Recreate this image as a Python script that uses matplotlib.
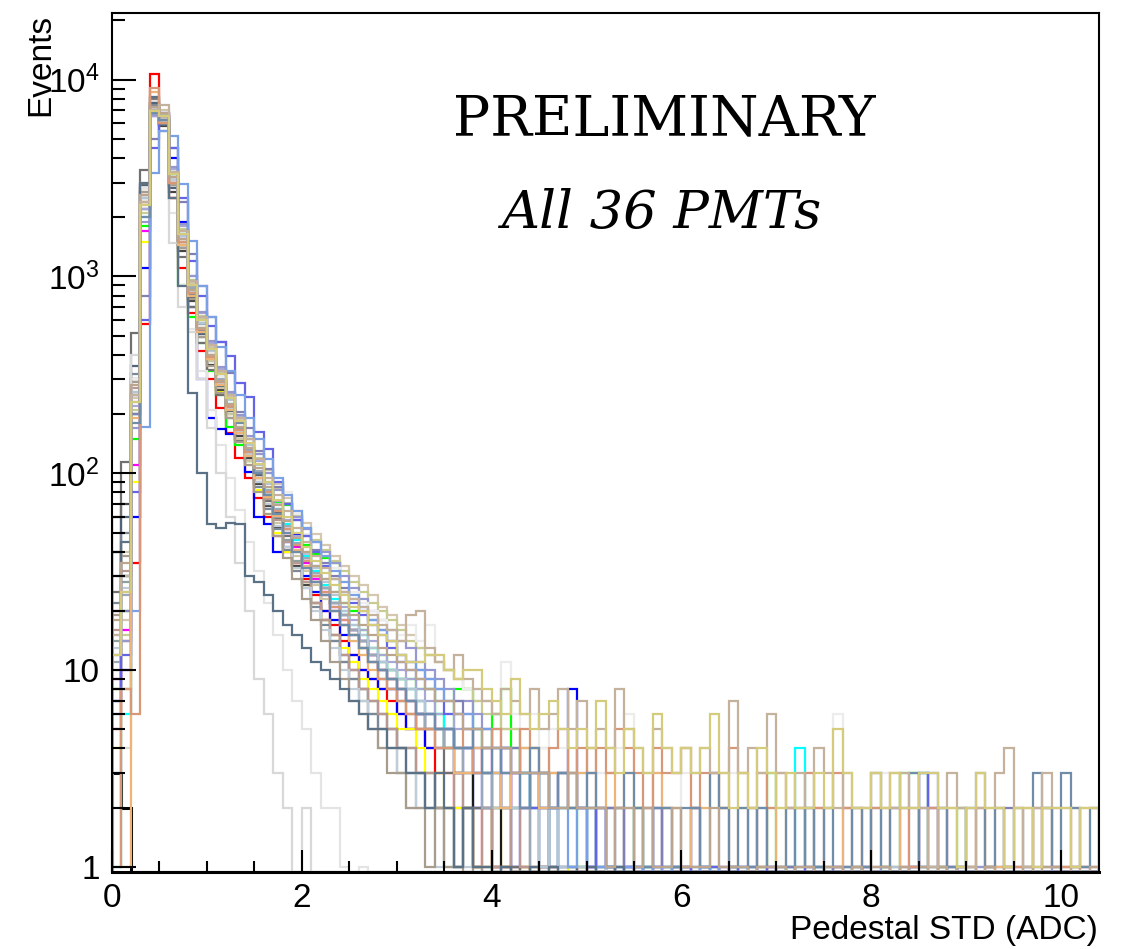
import numpy as np
import matplotlib
matplotlib.use("Agg")
import matplotlib.pyplot as plt
from matplotlib.ticker import FixedLocator, FixedFormatter, NullFormatter

# ---------------- data (counts per 0.1-ADC bin, starting at 0) ----------------
bin_width = 0.1
n_bins = 104
x_max = 10.4
y_min, y_max = 0.943, 21800

pmt01 = [3, 2]
pmt02 = [5, 14, 35, 575, 10700, 6500, 2500, 1100, 650, 420, 300, 215, 160, 120, 95, 75, 60, 48, 40, 34, 29, 24, 20, 17, 14, 12, 10, 9, 8, 7, 6, 5, 5, 4, 3, 3, 2, 2, 1, 2, 1, 1, 0, 1, 0, 1, 1, 0, 0, 1]
pmt03 = [8, 20, 150, 1800, 7000, 6200, 3200, 910, 620, 460, 330, 250, 172, 140, 115, 95, 82, 71, 69, 61, 43, 39, 37, 35, 22, 20, 16, 13, 12, 10, 9, 9, 8, 8, 6, 4, 8, 8, 5, 4, 6, 8, 4, 3, 2, 3, 1, 2, 2, 1, 2, 0, 1, 1, 0, 2, 1, 0, 1, 0, 1, 0, 0, 1, 0, 1, 0, 0, 1, 3, 0, 1, 0, 0, 1, 0, 0, 0, 1, 0, 0, 1, 0, 3, 3, 3, 0, 1, 0, 2]
pmt04 = [7, 10, 60, 1100, 6500, 6800, 4000, 1900, 700, 300, 190, 167, 158, 150, 101, 60, 55, 40, 45, 49, 30, 25, 20, 18, 15, 12, 10, 9, 8, 8, 6, 5, 6, 4, 4, 5, 3, 4, 2, 3, 2, 4, 1, 2, 3, 2, 1, 3, 8, 2, 1, 2, 1, 0, 1, 1, 0, 2, 1, 0, 1, 0, 1, 0, 0, 1, 0, 1, 0, 0, 0, 1, 0, 0, 1, 0, 0, 0, 0, 1, 0, 0, 0, 0, 1, 3, 2, 0, 1]
pmt05 = [4, 8, 90, 1500, 7500, 6000, 3000, 1500, 800, 520, 380, 260, 200, 150, 110, 82, 62, 50, 40, 33, 27, 22, 18, 15, 13, 11, 9, 8, 7, 6, 5, 5, 4, 3, 3, 2, 2, 2, 1, 1, 2, 1, 0, 1, 0, 1, 0, 0, 1]
pmt06 = [9, 16, 110, 1700, 7200, 6100, 3100, 1600, 850, 540, 390, 290, 215, 160, 120, 95, 75, 60, 50, 42, 35, 29, 25, 21, 18, 16, 14, 12, 10, 9, 8, 7, 6, 6, 5, 5, 4, 4, 3, 4, 3, 2, 3, 2, 2, 1, 2, 1, 1, 0, 1, 0, 1, 0, 1, 0, 0, 1, 0, 0, 1, 0, 0, 0, 1, 0, 0, 0, 0, 1, 0, 0, 0, 0, 0, 0, 1]
pmt07 = [1, 6, 200, 2000, 6800, 6300, 3300, 1700, 900, 580, 420, 300, 225, 170, 130, 100, 80, 66, 55, 46, 38, 32, 27, 23, 20, 17, 15, 13, 11, 10, 9, 8, 7, 6, 6, 5, 4, 4, 3, 3, 3, 2, 2, 3, 2, 1, 2, 1, 1, 1, 0, 1, 1, 0, 1, 0, 1, 0, 0, 1, 0, 0, 1, 0, 0, 0, 1, 0, 0, 0, 0, 1, 4, 0, 0, 1]
pmt08 = [40, 30, 200, 2200, 7000, 6000, 2900, 1450, 800, 520, 380, 285, 215, 165, 128, 100, 80, 64, 52, 43, 36, 30, 26, 22, 19, 16, 14, 12, 10, 9, 8, 7, 6, 5, 5, 4, 3, 3, 2, 2, 1, 2, 1, 1, 0, 1]
pmt09 = [60, 70, 300, 2800, 7600, 5800, 2700, 1350, 750, 490, 355, 265, 200, 155, 120, 88, 68, 53, 42, 34, 27, 22, 18, 15, 12, 10, 8, 7, 6, 5, 4, 4, 3, 3, 2, 2, 1, 2, 1, 1, 0, 1]
pmt10 = [25, 114, 516, 3470, 8000, 5500, 2500, 1250, 700, 460, 335, 250, 190, 148, 115, 90, 72, 59, 48, 40, 33, 28, 24, 20, 17, 15, 13, 11, 9, 8, 7, 6, 5, 5, 4, 3, 3, 2, 2, 2, 1, 1, 1, 0, 1]
pmt11 = [2, 4, 400, 3000, 8200, 6200, 1480, 700, 520, 300, 170, 100, 60, 35, 20, 9, 6, 3, 2, 0, 2]
pmt12 = [10, 20, 300, 2600, 7000, 6000, 3000, 1500, 850, 560, 410, 310, 240, 190, 150, 118, 95, 90, 80, 62, 49, 45, 38, 33, 28, 25, 22, 20, 18, 16, 15, 17, 14, 17, 12, 10, 9, 8, 8, 7, 6, 11, 6, 5, 6, 4, 5, 4, 3, 4, 3, 3, 3, 4, 6, 3, 2, 3, 2, 2, 3, 2, 2, 1, 2, 3, 2, 1, 2, 1, 2, 1, 2, 3, 2, 1, 6, 2, 1, 2, 2, 3, 2, 1, 2, 1, 2, 1, 1, 2, 1, 2, 1, 1, 2, 1, 1, 2, 1, 2, 1, 1, 1, 2]
pmt13 = [5, 8, 250, 2800, 7800, 6300, 2100, 900, 540, 330, 210, 140, 95, 65, 45, 32, 22, 15, 10, 7, 5, 3, 2, 2, 1, 0, 1]
pmt14 = [20, 45, 250, 3000, 8200, 6000, 2500, 890, 256, 100, 55, 53, 56, 55, 30, 28, 24, 20, 17, 15, 13, 11, 10, 9, 8, 7, 6, 5, 5, 4, 4, 3, 3, 2, 3, 2, 1, 2, 1, 1, 0, 1, 0, 0, 1, 0, 1, 0, 0, 0, 1, 0, 0, 1]
pmt15 = [12, 30, 180, 2000, 6800, 6200, 3400, 1700, 950, 600, 430, 320, 240, 180, 135, 100, 78, 62, 50, 40, 33, 28, 24, 20, 17, 15, 13, 11, 10, 9, 8, 7, 6, 6, 5, 5, 4, 4, 5, 3, 4, 3, 3, 2, 4, 3, 2, 3, 2, 2, 3, 2, 1, 2, 3, 2, 1, 2, 2, 1, 2, 2, 1, 3, 2, 1, 2, 1, 2, 1, 1, 2, 1, 2, 1, 2, 1, 1, 2, 1, 3, 1, 2, 2, 3, 1, 1, 2, 1, 1, 2, 3, 1, 2, 1, 2, 1, 3, 2, 1, 3, 2, 1, 2]
pmt16 = [3, 8, 20, 172, 3370, 5500, 5200, 2960, 1520, 890, 620, 440, 330, 250, 190, 150, 118, 95, 78, 64, 53, 45, 38, 32, 28, 24, 21, 18, 16, 14, 12, 11, 10, 9, 8, 7, 6, 6, 5, 5, 4, 4, 3, 3, 3, 2, 2, 2, 1, 2, 1, 1, 1, 0, 1, 1, 0, 1, 0, 1, 0, 0, 1, 0, 1, 0, 0, 1]
pmt17 = [6, 12, 80, 600, 4500, 6500, 4500, 2500, 1200, 800, 560, 467, 393, 288, 245, 163, 133, 90, 70, 58, 48, 40, 34, 29, 25, 22, 19, 17, 15, 13, 11, 10, 9, 8, 7, 6, 6, 5, 4, 4, 4, 3, 3, 3, 2, 3, 2, 2, 3, 2, 1, 2, 1, 1, 1, 0, 1, 1, 0, 1, 0, 1, 0, 1, 0, 0, 1, 0, 0, 1, 0, 0, 0, 1, 0, 0, 0, 0, 1, 0, 0, 0, 0, 0, 1, 1, 3, 2, 1]
pmt18 = [8, 20, 200, 800, 5000, 6500, 4500, 2400, 1300, 890, 620, 467, 323, 205, 170, 130, 105, 85, 70, 58, 48, 41, 35, 30, 26, 23, 20, 18, 16, 14, 12, 11, 10, 9, 8, 7, 7, 6, 5, 5, 4, 4, 4, 3, 3, 3, 2, 3, 2, 2, 2, 1, 2, 1, 2, 1, 1, 2, 1, 1, 1, 2, 1, 1, 0, 1, 1, 2, 1, 0, 1, 1, 0, 2, 1, 0, 1, 1, 0, 1, 2, 1, 0, 1, 1, 2, 1, 1, 0, 1, 1, 0, 1, 1, 2, 1, 0, 1, 2, 1, 0, 1, 1, 0]
pmt19 = [15, 25, 220, 2200, 6500, 6200, 3500, 1800, 1000, 650, 460, 340, 255, 195, 150, 115, 90, 72, 58, 48, 40, 34, 29, 25, 21, 18, 16, 14, 12, 11, 10, 9, 8, 7, 6, 6, 5, 5, 4, 4, 3, 4, 3, 3, 2, 3, 2, 2, 2, 3, 2, 1, 2, 2, 1, 2, 1, 1, 2, 1, 1, 2, 1, 1, 2, 1, 1, 1, 2, 1, 1, 1, 2, 1, 1, 1, 1, 2, 1, 1, 1, 1, 2, 1, 2, 1, 1, 1, 1, 1, 2, 1, 1, 1, 1, 1, 1, 2, 1, 1, 1, 1, 1, 1]
pmt20 = [10, 20, 260, 2500, 7000, 6000, 3200, 1600, 900, 580, 420, 310, 235, 180, 140, 110, 88, 70, 57, 47, 39, 33, 28, 24, 20, 17, 15, 13, 11, 10, 9, 8, 7, 6, 5, 5, 4, 4, 3, 3, 3, 2, 2, 2, 2, 1, 2, 1, 1, 1, 1, 0, 1, 1, 0, 1, 0, 1, 0, 1, 0, 0, 1, 0, 1, 0, 0, 1, 0, 0, 1, 0, 0, 1, 2, 0, 1, 0, 0, 1, 0, 0, 1, 0, 0, 1]
pmt21 = [30, 60, 350, 2900, 7600, 5900, 2800, 1400, 780, 510, 370, 275, 208, 160, 125, 98, 78, 63, 52, 43, 36, 30, 26, 22, 19, 16, 14, 12, 11, 10, 9, 8, 7, 6, 5, 5, 4, 4, 3, 3, 2, 3, 2, 2, 1, 2, 1, 1, 1, 0, 1, 0, 1, 0, 0, 1]
pmt22 = [20, 40, 300, 2500, 7200, 7000, 3100, 1500, 820, 520, 370, 270, 200, 150, 115, 90, 70, 56, 46, 38, 32, 27, 23, 20, 17, 15, 13, 11, 10, 9, 8, 7, 6, 5, 5, 4, 4, 3, 3, 3, 2, 2, 2, 2, 1, 2, 1, 1, 1, 1, 0, 1, 1, 0, 1, 0, 1, 0, 0, 1, 0, 1, 0, 0, 1, 0, 0, 0, 1, 0, 0, 1, 0, 0, 0, 1, 0, 0, 1, 0, 0, 0, 1]
pmt23 = [15, 30, 250, 2400, 7000, 7400, 3400, 1700, 950, 620, 450, 330, 250, 190, 150, 118, 95, 78, 64, 53, 45, 38, 33, 29, 25, 23, 21, 19, 17, 16, 14, 19, 20, 13, 11, 10, 12, 9, 8, 7, 6, 8, 7, 6, 8, 5, 6, 8, 5, 7, 4, 5, 4, 8, 5, 4, 3, 5, 4, 3, 4, 3, 4, 3, 3, 7, 3, 4, 3, 6, 3, 2, 3, 2, 4, 3, 2, 3, 2, 2, 3, 2, 2, 3, 2, 2, 1, 2, 3, 2, 1, 2, 2, 3, 4, 2, 1, 2, 3, 2, 2, 1, 2, 2]
pmt24 = [12, 25, 230, 2300, 6900, 6500, 3300, 1650, 900, 600, 430, 320, 240, 185, 142, 112, 90, 73, 60, 50, 42, 36, 31, 27, 24, 21, 20, 17, 15, 14, 12, 11, 11, 12, 12, 10, 9, 10, 10, 8, 7, 6, 9, 6, 5, 6, 7, 5, 4, 5, 4, 7, 4, 3, 5, 4, 3, 6, 4, 3, 4, 3, 4, 6, 3, 2, 3, 2, 4, 3, 2, 3, 2, 2, 3, 2, 5, 3, 2, 2, 3, 2, 3, 2, 2, 3, 3, 2, 2, 1, 2, 3, 2, 2, 1, 2, 2, 1, 2, 2, 2, 1, 2, 2]
pmt25 = [1, 8, 6, 2400, 9100, 6000, 3000, 1500, 820, 540, 390, 290, 220, 165, 128, 100, 80, 64, 52, 43, 36, 30, 25, 21, 18, 15, 13, 11, 9, 8, 7, 6, 5, 5, 4, 4, 4, 5, 3, 4, 5, 4, 3, 5, 4, 3, 4, 5, 3, 4, 3, 4, 3, 5, 4, 3, 2, 4, 3, 3, 4, 2, 3, 3, 2, 4, 3, 2, 3, 2, 3, 2, 2, 3, 2, 2, 3, 2, 2, 1, 2, 2, 3, 2, 1, 2, 2, 1, 2, 2, 1, 2, 1, 2, 1, 1, 2, 1, 2, 1, 1, 2, 1, 1]
pmt26 = [8, 1, 190, 2400, 8700, 6000, 3000, 1450, 800, 520, 380, 280, 210, 160, 122, 95, 76, 61, 50, 41, 34, 28, 24, 20, 17, 14, 12, 10, 9, 8, 7, 6, 5, 5, 4, 4, 3, 3, 4, 3, 3, 2, 3, 4, 3, 2, 3, 3, 2, 3, 4, 2, 3, 2, 3, 2, 2, 3, 2, 2, 1, 2, 2, 3, 2, 1, 2, 2, 1, 2, 1, 2, 2, 1, 2, 1, 1, 2, 1, 2, 1, 1, 2, 1, 1, 1, 2, 1, 1, 1, 1, 2, 1, 1, 1, 1, 1, 2, 1, 1, 1, 1, 1, 1]
pmt27 = [18, 35, 280, 2600, 7300, 6800, 3200, 1550, 850, 550, 400, 295, 225, 172, 135, 106, 85, 69, 57, 47, 40, 34, 29, 25, 22, 19, 17, 15, 13, 12, 11, 10, 9, 8, 7, 7, 6, 5, 5, 4, 4, 4, 3, 3, 3, 3, 2, 2, 3, 2, 2, 2, 1, 2, 2, 1, 2, 1, 1, 2, 1, 1, 1, 2, 1, 1, 1, 0, 1, 1, 1, 0, 1, 1, 0, 1, 1, 0, 1, 0, 1, 1, 0, 1, 0, 1, 0, 1, 0, 1, 1, 0, 1, 0, 1, 0, 1, 0, 1, 1, 0, 1, 0, 1]
pmt28 = [14, 28, 260, 2500, 7100, 6100, 3100, 1550, 860, 560, 400, 295, 220, 168, 130, 100, 78, 60, 46, 36, 28, 22, 18, 14, 11, 9, 7, 6, 5, 4, 3, 3, 2, 2, 2, 1, 1, 2, 1, 0, 1]
pmt29 = [22, 50, 320, 2700, 7400, 6000, 2900, 1450, 810, 530, 385, 285, 215, 165, 128, 85, 66, 52, 41, 32, 26, 21, 17, 14, 11, 9, 8, 6, 5, 5, 4, 3, 3, 2, 2, 2, 1, 2, 1, 1, 0, 1]
pmt30 = [10, 18, 240, 2300, 7000, 6400, 3300, 1700, 930, 610, 440, 325, 245, 188, 150, 125, 104, 88, 75, 64, 56, 49, 43, 38, 34, 30, 27, 24, 21, 19, 17, 15, 13, 12, 11, 10, 9, 8, 7, 7, 6, 5, 5, 4, 4, 4, 3, 3, 3, 2, 3, 2, 2, 2, 1, 2, 2, 1, 2, 1, 1, 2, 1, 1, 0, 1, 1, 0, 1, 1, 0, 1, 0, 1, 1, 0, 1, 0, 1, 0, 0, 1, 0, 1, 0, 0, 1, 0, 0, 1, 0, 0, 1, 0, 1]
pmt31 = [16, 32, 270, 2600, 7200, 6100, 3000, 1500, 830, 540, 390, 285, 215, 165, 128, 95, 74, 58, 45, 35, 28, 22, 18, 15, 12, 10, 8, 7, 6, 5, 4, 4, 3, 3, 2, 2, 3, 2, 1, 2, 1, 1, 2, 1, 0, 1]
pmt32 = [9, 15, 210, 2100, 6800, 6600, 3500, 1750, 960, 630, 450, 335, 252, 193, 150, 120, 100, 84, 71, 61, 53, 46, 41, 36, 32, 28, 25, 22, 20, 18, 16, 14, 13, 12, 11, 10, 9, 8, 7, 6, 6, 5, 5, 4, 4, 3, 3, 3, 3, 2, 2, 2, 2, 2, 1, 2, 1, 1, 2, 1, 1, 1, 1, 0, 1, 1, 0, 1, 1, 0, 1, 0, 1, 1, 0, 1, 0, 1, 0, 1, 0, 0, 1, 0, 1, 0, 0, 1, 0, 0, 1, 0, 1]
pmt33 = [11, 24, 230, 2400, 7000, 6200, 3200, 1600, 880, 570, 410, 300, 225, 172, 132, 103, 82, 66, 54, 44, 37, 31, 26, 22, 19, 16, 14, 12, 10, 9, 8, 7, 6, 5, 5, 4, 4, 3, 3, 2, 3, 2, 2, 2, 1, 2, 1, 1, 1, 1, 0, 1, 0, 1, 0, 1]
pmt34 = [7, 14, 170, 1900, 6600, 6500, 3600, 1850, 1000, 660, 470, 345, 260, 198, 155, 125, 100, 82, 70, 60, 52, 45, 40, 35, 30, 26, 23, 20, 18, 16, 14, 13, 11, 10, 9, 8, 7, 7, 6, 5, 5, 4, 4, 3, 3, 3, 2, 3, 2, 2, 2, 1, 2, 2, 1, 1, 2, 1, 1, 1, 1, 2, 1, 1, 0, 1, 1, 1, 0, 1, 1, 0, 1, 1, 0, 1, 0, 1, 1, 0, 1, 0, 1, 0, 1, 1, 0, 1, 0, 1, 0, 1, 1, 0, 1, 0, 1, 0, 1, 0, 1, 1]
pmt35 = [13, 26, 250, 2500, 7100, 6100, 3100, 1500, 830, 540, 385, 285, 212, 162, 125, 90, 70, 54, 42, 33, 26, 20, 16, 13, 10, 8, 7, 5, 4, 4, 3, 2, 3, 2, 1, 2, 1, 1, 0, 1]
pmt36 = [19, 38, 290, 2700, 7300, 6000, 2900, 1400, 770, 490, 350, 255, 190, 144, 110, 80, 62, 48, 37, 29, 23, 18, 14, 11, 9, 7, 6, 5, 4, 3, 3, 2, 2, 1, 2, 1, 1, 0, 1]

# drawing order (first drawn = bottom) and line colours
pmt_series = [pmt01, pmt02, pmt03, pmt04, pmt05, pmt06, pmt07, pmt08, pmt09, pmt10,
              pmt13, pmt21, pmt22, pmt28, pmt29, pmt30, pmt31, pmt32, pmt33, pmt35,
              pmt36, pmt19, pmt34, pmt20, pmt12, pmt11, pmt18, pmt17, pmt16, pmt14,
              pmt26, pmt25, pmt15, pmt27, pmt23, pmt24]
pmt_colors = ["#000000", "#ff0000", "#00ff00", "#0000ff", "#ffff00", "#ff00ff", "#00ffff", "#1a1a1a", "#444444", "#707070",
              "#e4e4e4", "#4f6478", "#cdc6a4", "#8ca0a0", "#7a8898", "#d6c8b0", "#b89890", "#c8cc90", "#9aa8b8", "#c0ccd8",
              "#a89c8c", "#a8a8d6", "#9898d0", "#b4c6d4", "#ececec", "#d8d8d8", "#8080b4", "#6464e6", "#7aa0e6", "#5b7186",
              "#ecb476", "#d89878", "#6f8ca8", "#bca58e", "#c4b29c", "#d4cc7c"]

y_major = [1, 10, 100, 1000, 10000]
y_major_labels = ["1", "10", r"$\mathregular{10^{2}}$", r"$\mathregular{10^{3}}$", r"$\mathregular{10^{4}}$"]
x_major = [0, 2, 4, 6, 8, 10]
x_major_labels = ["0", "2", "4", "6", "8", "10"]

# ---------------- figure ----------------
plt.rcParams["font.family"] = ["Liberation Sans", "DejaVu Sans"]
plt.rcParams["mathtext.fontset"] = "custom"
plt.rcParams["mathtext.rm"] = "Liberation Sans"

W, H = 1121, 949
fig = plt.figure(figsize=(W / 100, H / 100), dpi=100)
left, right, top, bottom = 112, 1099, 13, 872
ax = fig.add_axes([left / W, 1 - bottom / H, (right - left) / W, (bottom - top) / H])

edges = np.arange(n_bins + 1) * bin_width
for counts, color in zip(pmt_series, pmt_colors):
    vals = np.zeros(n_bins)
    m = min(len(counts), n_bins)
    vals[:m] = counts[:m]
    vals = np.where(vals > 0, vals, y_min)
    lw = 2.2 if color == "#000000" else 1.6
    ax.stairs(vals, edges, baseline=y_min, color=color, lw=lw, fill=False)

ax.set_yscale("log")
ax.set_xlim(0, x_max)
ax.set_ylim(y_min, y_max)

ax.yaxis.set_major_locator(FixedLocator(y_major))
ax.yaxis.set_major_formatter(FixedFormatter(y_major_labels))
y_minor = [k * 10 ** d for d in range(0, 5) for k in range(2, 10) if k * 10 ** d < y_max]
ax.yaxis.set_minor_locator(FixedLocator(y_minor))
ax.yaxis.set_minor_formatter(NullFormatter())

ax.xaxis.set_major_locator(FixedLocator(x_major))
ax.xaxis.set_major_formatter(FixedFormatter(x_major_labels))
ax.xaxis.set_minor_locator(FixedLocator([0.5, 1, 1.5, 2.5, 3, 3.5, 4.5, 5, 5.5, 6.5, 7, 7.5, 8.5, 9, 9.5]))

ax.tick_params(axis="both", which="both", direction="in", colors="black",
               labelsize=24, width=1.5)
ax.tick_params(axis="y", which="major", length=17, pad=9)
ax.tick_params(axis="y", which="minor", length=9.5)
ax.tick_params(axis="x", which="major", length=16, pad=8)
ax.tick_params(axis="x", which="minor", length=8)
ax.tick_params(top=False, right=False)

for s in ax.spines.values():
    s.set_linewidth(1.5)
    s.set_color("black")
ax.spines["bottom"].set_linewidth(2.2)

fig.text(41 / W, 1 - 14 / H, "Events", rotation=90, ha="center", va="top", fontsize=24)
fig.text(1098 / W, 1 - 939 / H, "Pedestal STD (ADC)", ha="right", va="baseline", fontsize=24)

fig.text(664 / W, 1 - 135 / H, "PRELIMINARY", ha="center", va="baseline",
         fontsize=40, family="DejaVu Serif")
fig.text(661 / W, 1 - 228 / H, "All 36 PMTs", ha="center", va="baseline",
         fontsize=38, family="DejaVu Serif", style="italic")

fig.savefig("out.png", dpi=100)
